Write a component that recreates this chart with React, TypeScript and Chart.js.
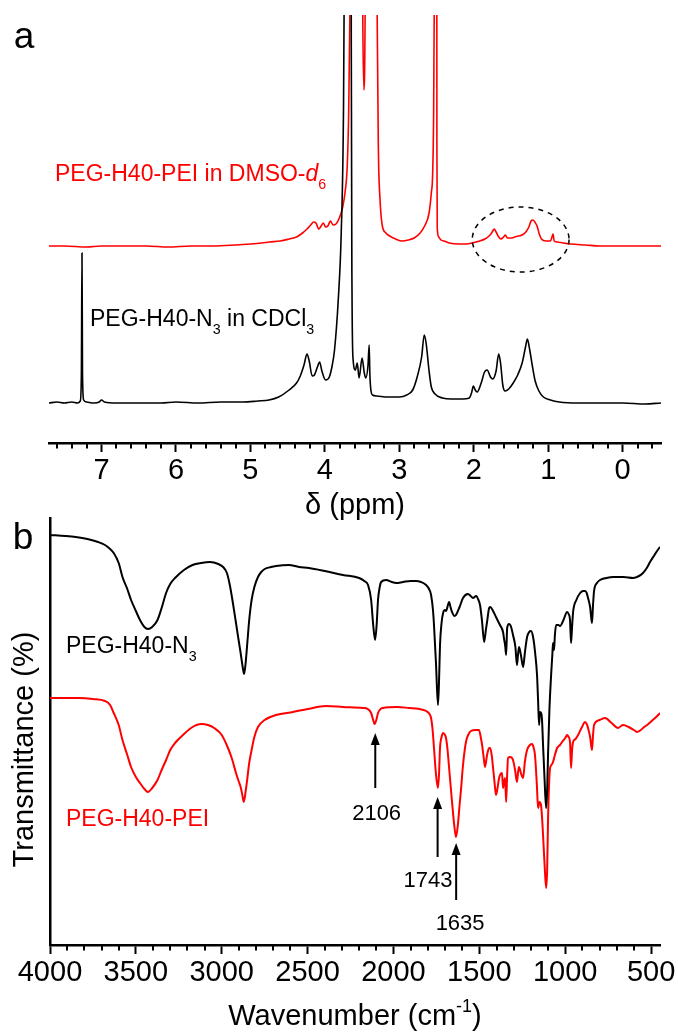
import React, { useEffect, useRef } from "react";
import { Chart, registerables } from "chart.js";

Chart.register(...registerables);

const FONT = "'Liberation Sans', Arial, Helvetica, sans-serif";
const RED = "#ff0000";
const BLACK = "#000000";

// ---------- Panel a: 1H NMR (ppm, relative intensity) ----------
const NMR_MAJOR_TICKS = [7, 6, 5, 4, 3, 2, 1, 0];
const NMR_MINOR_TICKS = [7.6, 7.4, 7.2, 6.8, 6.6, 6.4, 6.2, 5.8, 5.6, 5.4, 5.2, 4.8, 4.6, 4.4, 4.2, 3.8, 3.6, 3.4, 3.2, 2.8, 2.6, 2.4, 2.2, 1.8, 1.6, 1.4, 1.2, 0.8, 0.6, 0.4, 0.2, -0.2, -0.4];

const NMR_N3_CDCL3: [number, number][] = [
  [7.705, 40], [7.6, 41], [7.5, 40], [7.4, 41], [7.32, 40], [7.285, 42], [7.27, 70], [7.262, 190], [7.255, 70], [7.24, 43],
  [7.2, 41], [7.1, 40], [7.03, 41], [7.0, 43], [6.96, 41], [6.8, 40], [6.5, 40], [6.2, 40], [6.0, 41], [5.7, 40],
  [5.4, 41], [5.1, 41], [4.9, 42], [4.75, 43], [4.62, 46], [4.48, 53], [4.38, 60], [4.33, 67], [4.28, 78], [4.24, 89],
  [4.21, 82], [4.17, 67], [4.14, 68], [4.10, 76], [4.07, 81], [4.04, 72], [3.99, 63], [3.94, 66], [3.90, 78], [3.87, 93],
  [3.82, 143], [3.78, 210], [3.75, 330], [3.72, 700], [3.69, 1600], [3.67, 2500], [3.655, 1500], [3.645, 400], [3.635, 150], [3.62, 83],
  [3.59, 73], [3.565, 80], [3.54, 65], [3.50, 85], [3.47, 70], [3.45, 65], [3.42, 78], [3.405, 98], [3.395, 68], [3.38, 52],
  [3.36, 48], [3.3, 47], [3.15, 46], [3.0, 46], [2.9, 48], [2.82, 53], [2.76, 66], [2.70, 86], [2.665, 108], [2.64, 100],
  [2.60, 72], [2.57, 56], [2.52, 49], [2.42, 45], [2.3, 44], [2.15, 44], [2.06, 45], [2.03, 50], [2.005, 57], [1.98, 53],
  [1.955, 51], [1.90, 60], [1.855, 71], [1.82, 73], [1.775, 66], [1.745, 64], [1.70, 72], [1.665, 89], [1.64, 80], [1.61, 58],
  [1.58, 52], [1.53, 54], [1.47, 60], [1.41, 68], [1.35, 80], [1.305, 96], [1.28, 104], [1.255, 96], [1.215, 78], [1.175, 62],
  [1.125, 52], [1.065, 46], [0.97, 43], [0.85, 41], [0.6, 40], [0.3, 40], [0.0, 40], [-0.3, 39], [-0.515, 40],
];

const NMR_PEI_DMSO: [number, number][] = [
  [7.705, 197], [7.5, 197], [7.2, 196], [7.0, 197], [6.7, 197], [6.4, 197], [6.1, 196], [5.8, 197], [5.5, 197], [5.2, 198],
  [5.0, 199], [4.85, 200], [4.745, 201], [4.6, 202], [4.48, 204], [4.38, 206], [4.30, 210], [4.24, 214], [4.19, 218], [4.15, 221],
  [4.12, 220], [4.08, 214], [4.05, 217], [4.02, 220], [3.99, 216], [3.96, 217], [3.925, 222], [3.89, 218], [3.85, 219], [3.80, 226],
  [3.76, 236], [3.73, 250], [3.70, 276], [3.68, 330], [3.66, 450], [3.63, 800], [3.58, 1500], [3.54, 1200], [3.51, 700], [3.49, 420],
  [3.475, 353], [3.46, 420], [3.44, 800], [3.40, 1500], [3.35, 1500], [3.32, 900], [3.30, 450], [3.28, 290], [3.26, 245], [3.23, 218],
  [3.18, 210], [3.13, 207], [3.05, 204], [2.96, 202], [2.88, 203], [2.80, 205], [2.72, 210], [2.66, 217], [2.60, 230], [2.57, 250],
  [2.55, 275], [2.535, 380], [2.52, 900], [2.51, 3000], [2.50, 1200], [2.495, 300], [2.49, 215], [2.47, 206], [2.44, 203], [2.40, 202],
  [2.33, 200], [2.2, 199], [2.1, 199], [2.02, 200], [1.92, 202], [1.85, 204], [1.81, 206], [1.77, 209], [1.745, 212], [1.725, 214],
  [1.70, 211], [1.665, 206], [1.635, 204], [1.60, 206], [1.575, 208], [1.55, 205], [1.50, 205], [1.45, 206], [1.40, 207], [1.35, 208],
  [1.30, 211], [1.26, 216], [1.23, 222], [1.205, 223], [1.18, 221], [1.15, 217], [1.12, 209], [1.09, 204], [1.03, 202], [0.97, 202],
  [0.945, 207], [0.935, 209], [0.92, 202], [0.88, 201], [0.80, 200], [0.70, 199], [0.5, 198], [0.3, 197], [0.0, 197], [-0.3, 197],
  [-0.515, 197],
];

// ---------- Panel b: FTIR (wavenumber, transmittance offset) ----------
const IR_MAJOR_TICKS = [4000, 3500, 3000, 2500, 2000, 1500, 1000, 500];
const IR_MINOR_TICKS = [3900, 3800, 3700, 3600, 3400, 3300, 3200, 3100, 2900, 2800, 2700, 2600, 2400, 2300, 2200, 2100, 1900, 1800, 1700, 1600, 1400, 1300, 1200, 1100, 900, 800, 700, 600];

const IR_N3: [number, number][] = [
  [4000, 410], [3909, 409], [3850, 408], [3782, 406], [3720, 403], [3680, 400], [3650, 396], [3629, 392], [3600, 382], [3578, 368],
  [3550, 356], [3528, 345], [3500, 334], [3476, 325], [3450, 318], [3430, 316], [3405, 318], [3374, 325], [3350, 337], [3324, 352],
  [3300, 361], [3272, 367], [3220, 375], [3170, 380], [3120, 382], [3068, 383], [3020, 381], [2992, 378], [2970, 372], [2953, 360],
  [2935, 342], [2917, 322], [2900, 303], [2890, 292], [2878, 278], [2870, 271], [2862, 280], [2852, 300], [2840, 325], [2826, 345],
  [2810, 358], [2789, 368], [2770, 373], [2750, 376], [2713, 378], [2684, 379], [2610, 380], [2550, 378], [2492, 377], [2400, 374],
  [2294, 370], [2200, 367], [2170, 364], [2148, 360], [2130, 345], [2118, 320], [2107, 305], [2098, 320], [2090, 345], [2080, 358],
  [2072, 363], [2043, 365], [2010, 363], [1985, 362], [1944, 363], [1900, 364], [1868, 364], [1840, 363], [1810, 360], [1790, 355],
  [1781, 350], [1770, 335], [1764, 320], [1752, 280], [1741, 240], [1735, 262], [1729, 300], [1720, 322], [1711, 332], [1700, 335],
  [1694, 334], [1676, 343], [1668, 338], [1659, 333], [1645, 329], [1636, 330], [1615, 338], [1595, 347], [1566, 351], [1550, 349],
  [1537, 347], [1519, 349], [1505, 345], [1496, 340], [1485, 325], [1472, 303], [1462, 315], [1455, 323], [1443, 337], [1437, 338],
  [1420, 334], [1403, 328], [1380, 320], [1362, 313], [1356, 306], [1350, 300], [1344, 290], [1338, 317], [1327, 321], [1315, 318],
  [1304, 310], [1290, 298], [1281, 280], [1275, 290], [1269, 298], [1258, 290], [1245, 278], [1235, 292], [1222, 308], [1210, 313],
  [1199, 314], [1187, 308], [1175, 292], [1164, 270], [1158, 245], [1152, 220], [1147, 233], [1140, 232], [1135, 225], [1129, 200],
  [1120, 165], [1111, 137], [1105, 155], [1100, 190], [1092, 235], [1082, 270], [1075, 290], [1071, 302], [1065, 295], [1060, 310],
  [1053, 320], [1040, 320], [1030, 319], [1010, 325], [989, 333], [980, 331], [972, 325], [966, 302], [960, 318], [954, 333],
  [935, 345], [913, 352], [895, 354], [884, 354], [875, 352], [867, 347], [855, 338], [844, 322], [838, 340], [832, 354],
  [815, 362], [797, 365], [760, 367], [721, 368], [660, 368], [605, 367], [570, 369], [547, 372], [525, 377], [506, 383],
  [480, 390], [453, 397], [448, 398],
];

const IR_PEI: [number, number][] = [
  [4000, 247], [3900, 247], [3833, 247], [3750, 246], [3680, 244], [3650, 240], [3629, 232], [3600, 220], [3578, 205], [3550, 190],
  [3528, 178], [3500, 168], [3476, 162], [3450, 156], [3430, 153], [3405, 157], [3374, 165], [3350, 175], [3324, 185], [3300, 195],
  [3272, 202], [3220, 211], [3170, 218], [3120, 221], [3080, 220], [3044, 217], [3000, 210], [2966, 198], [2940, 186], [2917, 172],
  [2900, 163], [2890, 158], [2880, 150], [2872, 143], [2862, 152], [2852, 165], [2840, 182], [2826, 195], [2810, 208], [2789, 218],
  [2750, 225], [2684, 230], [2585, 233], [2500, 236], [2393, 239], [2294, 238], [2177, 237], [2150, 236], [2130, 232], [2120, 226],
  [2110, 221], [2100, 225], [2090, 232], [2075, 236], [2061, 237], [1980, 238], [1909, 237], [1850, 236], [1810, 234], [1790, 231],
  [1781, 227], [1772, 215], [1764, 197], [1752, 170], [1741, 157], [1735, 170], [1729, 197], [1720, 208], [1711, 212], [1700, 210],
  [1694, 207], [1685, 195], [1676, 177], [1660, 145], [1645, 118], [1636, 108], [1625, 120], [1615, 140], [1607, 155], [1595, 180],
  [1578, 203], [1565, 210], [1549, 214], [1520, 215], [1502, 215], [1492, 208], [1484, 200], [1475, 188], [1467, 178], [1455, 190],
  [1443, 197], [1437, 197], [1428, 190], [1420, 177], [1410, 160], [1403, 150], [1393, 158], [1385, 167], [1368, 172], [1362, 157],
  [1356, 163], [1350, 167], [1344, 143], [1338, 170], [1333, 187], [1320, 188], [1304, 185], [1292, 175], [1281, 163], [1275, 172],
  [1269, 178], [1258, 172], [1245, 167], [1235, 183], [1222, 195], [1205, 200], [1193, 201], [1185, 198], [1176, 190], [1165, 160],
  [1158, 137], [1150, 143], [1141, 140], [1135, 128], [1129, 110], [1120, 80], [1111, 57], [1105, 75], [1100, 125], [1094, 160],
  [1088, 177], [1080, 180], [1071, 183], [1060, 190], [1047, 197], [1030, 200], [1018, 203], [1000, 207], [989, 210], [980, 208],
  [972, 203], [966, 177], [960, 195], [954, 203], [940, 206], [925, 210], [905, 217], [884, 223], [875, 221], [867, 217],
  [855, 208], [844, 195], [838, 210], [832, 220], [800, 225], [768, 227], [730, 222], [692, 217], [675, 219], [663, 220],
  [630, 218], [600, 215], [582, 213], [560, 215], [540, 218], [523, 220], [490, 225], [470, 228], [453, 231], [448, 232],
];

// Band annotations: wavenumber, arrow tail/head (y units), label anchor
const IR_BANDS = [
  { wn: 2106, tail: 157, head: 212, label: "2106", labelWn: 2098, labelY: 131 },
  { wn: 1743, tail: 88, head: 148, label: "1743", labelWn: 1799, labelY: 64 },
  { wn: 1635, tail: 45, head: 102, label: "1635", labelWn: 1612, labelY: 21 },
];

type Seg = { t: string; sub?: boolean; sup?: boolean; it?: boolean };

function drawRich(ctx: CanvasRenderingContext2D, segs: Seg[], x: number, y: number, size: number, color: string, align: "left" | "center") {
  const parts = segs.map((s) => {
    const fs = s.sub || s.sup ? size * 0.62 : size;
    const font = `${s.it ? "italic " : ""}${fs}px ${FONT}`;
    ctx.font = font;
    const w = ctx.measureText(s.t).width;
    const dy = s.sub ? size * 0.42 : s.sup ? -size * 0.36 : 0;
    return { t: s.t, font, w, dy };
  });
  const total = parts.reduce((a, p) => a + p.w, 0);
  let cx = align === "center" ? x - total / 2 : x;
  ctx.fillStyle = color;
  ctx.textBaseline = "middle";
  ctx.textAlign = "left";
  for (const p of parts) {
    ctx.font = p.font;
    ctx.fillText(p.t, cx, y + p.dy);
    cx += p.w;
  }
}

function drawMinorTicks(chart: any, values: number[]) {
  const ctx = chart.ctx as CanvasRenderingContext2D;
  const xs = chart.scales.x;
  const y0 = chart.chartArea.bottom;
  ctx.save();
  ctx.strokeStyle = BLACK;
  ctx.lineWidth = 2;
  for (const v of values) {
    const px = Math.round(xs.getPixelForValue(v));
    ctx.beginPath();
    ctx.moveTo(px, y0);
    ctx.lineTo(px, y0 + 5.5);
    ctx.stroke();
  }
  ctx.restore();
}

const overlayA = {
  id: "overlayA",
  afterDraw(chart: any) {
    const ctx = chart.ctx as CanvasRenderingContext2D;
    const xs = chart.scales.x;
    const ys = chart.scales.y;
    const area = chart.chartArea;
    drawMinorTicks(chart, NMR_MINOR_TICKS);
    ctx.save();
    // dashed ellipse around the PEI region
    const x1 = xs.getPixelForValue(2.02);
    const x2 = xs.getPixelForValue(0.72);
    const yTop = ys.getPixelForValue(236);
    const yBot = ys.getPixelForValue(171);
    ctx.beginPath();
    ctx.setLineDash([5, 5]);
    ctx.strokeStyle = BLACK;
    ctx.lineWidth = 1.5;
    ctx.ellipse((x1 + x2) / 2, (yTop + yBot) / 2, Math.abs(x2 - x1) / 2, Math.abs(yBot - yTop) / 2, 0, 0, Math.PI * 2);
    ctx.stroke();
    ctx.setLineDash([]);
    // spectrum labels
    drawRich(ctx, [{ t: "PEG-H40-PEI in DMSO-" }, { t: "d", it: true }, { t: "6", sub: true }], xs.getPixelForValue(7.624), ys.getPixelForValue(268), 23, RED, "left");
    drawRich(ctx, [{ t: "PEG-H40-N" }, { t: "3", sub: true }, { t: " in CDCl" }, { t: "3", sub: true }], xs.getPixelForValue(7.154), ys.getPixelForValue(123), 23, BLACK, "left");
    // panel letter
    ctx.font = `37px ${FONT}`;
    ctx.fillStyle = BLACK;
    ctx.textAlign = "center";
    ctx.textBaseline = "alphabetic";
    ctx.fillText("a", 24, 48);
    // axis title
    drawRich(ctx, [{ t: "\u03b4 (ppm)" }], (area.left + area.right) / 2, area.bottom + 63, 29, BLACK, "center");
    ctx.restore();
  },
};

const overlayB = {
  id: "overlayB",
  afterDraw(chart: any) {
    const ctx = chart.ctx as CanvasRenderingContext2D;
    const xs = chart.scales.x;
    const ys = chart.scales.y;
    const area = chart.chartArea;
    drawMinorTicks(chart, IR_MINOR_TICKS);
    ctx.save();
    drawRich(ctx, [{ t: "PEG-H40-N" }, { t: "3", sub: true }], xs.getPixelForValue(3907), ys.getPixelForValue(298), 23, BLACK, "left");
    drawRich(ctx, [{ t: "PEG-H40-PEI" }], xs.getPixelForValue(3907), ys.getPixelForValue(125), 23, RED, "left");
    // arrows + band labels
    ctx.strokeStyle = BLACK;
    ctx.fillStyle = BLACK;
    ctx.lineWidth = 2;
    for (const b of IR_BANDS) {
      const px = xs.getPixelForValue(b.wn);
      const yT = ys.getPixelForValue(b.tail);
      const yH = ys.getPixelForValue(b.head);
      ctx.beginPath();
      ctx.moveTo(px, yT);
      ctx.lineTo(px, yH + 8);
      ctx.stroke();
      ctx.beginPath();
      ctx.moveTo(px, yH);
      ctx.lineTo(px - 4.5, yH + 12);
      ctx.lineTo(px + 4.5, yH + 12);
      ctx.closePath();
      ctx.fill();
      drawRich(ctx, [{ t: b.label }], xs.getPixelForValue(b.labelWn), ys.getPixelForValue(b.labelY), 22, BLACK, "center");
    }
    // panel letter
    ctx.font = `37px ${FONT}`;
    ctx.fillStyle = BLACK;
    ctx.textAlign = "center";
    ctx.textBaseline = "alphabetic";
    ctx.fillText("b", 23, 39);
    // axis titles
    drawRich(ctx, [{ t: "Wavenumber (cm" }, { t: "-1", sup: true }, { t: ")" }], (area.left + area.right) / 2, area.bottom + 72, 29, BLACK, "center");
    ctx.save();
    ctx.translate(25, (area.top + area.bottom) / 2 + 18);
    ctx.rotate(-Math.PI / 2);
    drawRich(ctx, [{ t: "Transmittance (%)" }], 0, 0, 29, BLACK, "center");
    ctx.restore();
    ctx.restore();
  },
};

const toXY = (arr: [number, number][]) => arr.map(([x, y]) => ({ x, y }));

function xAxis(min: number, max: number, majors: number[], height: number) {
  return {
    type: "linear",
    position: "bottom",
    min,
    max,
    reverse: true,
    afterBuildTicks: (s: any) => {
      s.ticks = majors.map((v) => ({ value: v }));
    },
    afterFit: (s: any) => {
      s.height = height;
      s.paddingLeft = 0;
      s.paddingRight = 0;
    },
    ticks: {
      autoSkip: false,
      maxRotation: 0,
      minRotation: 0,
      padding: 2,
      color: BLACK,
      font: { size: 29, family: FONT },
      callback: (v: number) => String(v),
    },
    grid: { display: true, drawOnChartArea: false, drawTicks: true, tickLength: 9, tickWidth: 2, tickColor: BLACK, color: BLACK },
    border: { display: true, color: BLACK, width: 2.5 },
  };
}

const lineStyle = (color: string, width: number) => ({
  borderColor: color,
  borderWidth: width,
  pointRadius: 0,
  fill: false,
  cubicInterpolationMode: "monotone",
});

export default function App() {
  const refA = useRef<HTMLCanvasElement>(null);
  const refB = useRef<HTMLCanvasElement>(null);

  useEffect(() => {
    document.body.style.margin = "0";
    const common = {
      animation: false,
      responsive: false,
      events: [],
      plugins: { legend: { display: false }, tooltip: { enabled: false }, title: { display: false } },
    };
    const chartA = new Chart(refA.current as HTMLCanvasElement, {
      type: "line",
      data: {
        datasets: [
          { label: "PEG-H40-N3 in CDCl3", data: toXY(NMR_N3_CDCL3), ...lineStyle(BLACK, 1.6) },
          { label: "PEG-H40-PEI in DMSO-d6", data: toXY(NMR_PEI_DMSO), ...lineStyle(RED, 1.6) },
        ],
      },
      options: {
        ...common,
        layout: { padding: { left: 49, right: 17, top: 15, bottom: 0 } },
        scales: {
          x: xAxis(-0.515, 7.705, NMR_MAJOR_TICKS, 87),
          y: { display: false, min: 0, max: 428 },
        },
      },
      plugins: [overlayA],
    } as any);

    const chartB = new Chart(refB.current as HTMLCanvasElement, {
      type: "line",
      data: {
        datasets: [
          { label: "PEG-H40-N3", data: toXY(IR_N3), ...lineStyle(BLACK, 2) },
          { label: "PEG-H40-PEI", data: toXY(IR_PEI), ...lineStyle(RED, 2) },
        ],
      },
      options: {
        ...common,
        layout: { padding: { left: 50, right: 18, top: 8, bottom: 0 } },
        scales: {
          x: xAxis(448, 4000, IR_MAJOR_TICKS, 87),
          y: {
            display: true,
            position: "left",
            min: 0,
            max: 427,
            afterFit: (s: any) => {
              s.width = 0;
            },
            ticks: { display: false },
            grid: { display: false, drawTicks: false },
            border: { display: true, color: BLACK, width: 2.5 },
          },
        },
      },
      plugins: [overlayB],
    } as any);

    return () => {
      chartA.destroy();
      chartB.destroy();
    };
  }, []);

  return (
    <div style={{ position: "absolute", left: 0, top: 0, width: 678, height: 1032, background: "#ffffff", overflow: "hidden" }}>
      <canvas ref={refA} width={678} height={530} style={{ position: "absolute", left: 0, top: 0, width: 678, height: 530 }} />
      <canvas ref={refB} width={678} height={522} style={{ position: "absolute", left: 0, top: 510, width: 678, height: 522 }} />
    </div>
  );
}
